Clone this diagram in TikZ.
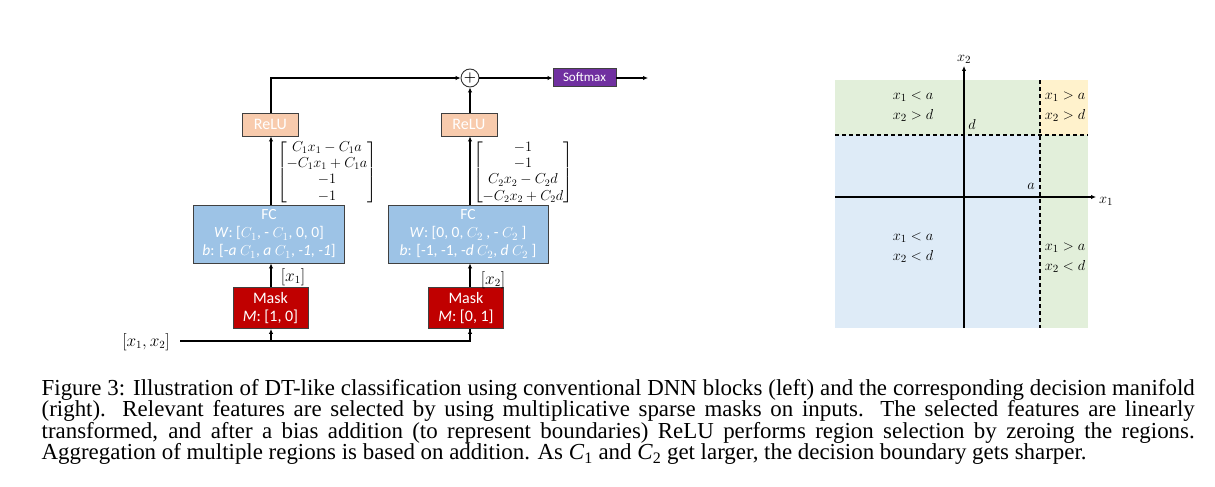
\documentclass[tikz,border=0pt]{standalone}
\usepackage{amsmath}
\usepackage{fontspec}
\newfontfamily\boxfont{Carlito}
\newfontfamily\capfont{Liberation Serif}
\usetikzlibrary{arrows.meta}
\definecolor{relufill}{HTML}{F8CBAD}
\definecolor{fcfill}{HTML}{9DC3E6}
\definecolor{maskfill}{HTML}{C00000}
\definecolor{softfill}{HTML}{7030A0}
\definecolor{rgreen}{HTML}{E2EFDA}
\definecolor{rblue}{HTML}{DEEBF7}
\definecolor{ryellow}{HTML}{FFF2CC}
\newlength\capw
\tikzset{
  blk/.style={draw=black!75, line width=0.9pt, text=white, align=center, inner sep=0pt,
    font=\boxfont\fontsize{16}{18.5}\selectfont},
  arr/.style={-{Latex[length=5pt,width=4.5pt]}, line width=1.3pt},
  ln/.style={line width=1.3pt},
  mtx/.style={font=\fontsize{14.5}{16.2}\selectfont, inner sep=0pt},
  lbl/.style={font=\fontsize{15.5}{20}\selectfont, align=center, inner sep=0pt},
  bnd/.style={line width=1.1pt, dash pattern=on 4pt off 3pt}
}
\begin{document}
\settowidth\capw{\capfont\fontsize{10}{12}\selectfont Figure 3: Illustration of DT-like classification using conventional DNN blocks (left) and the corresponding decision manifold}
\pgfmathsetmacro\capsize{10*1150/\capw}
\begin{tikzpicture}[x=1pt,y=-1pt]
\useasboundingbox (0,0) rectangle (1215,487);
% ---- network ----
\coordinate (c1) at (271,0);
\coordinate (c2) at (470,0);
\node[blk, fill=maskfill, minimum width=75, minimum height=41] (mask1) at (270.5,308) {Mask\\\textit{M}: [1, 0]};
\node[blk, fill=maskfill, minimum width=75, minimum height=41] (mask2) at (466,308) {Mask\\\textit{M}: [0, 1]};
\node[blk, fill=fcfill, minimum width=151, minimum height=58, font=\boxfont\fontsize{15.5}{18}\selectfont] (fc1) at (269,234)
  {FC\\\textit{W}: [$C_1$, - $C_1$, 0, 0]\\\textit{b}: [-\textit{a} $C_1$, \textit{a} $C_1$, \textit{-1}, \textit{-1}]};
\node[blk, fill=fcfill, minimum width=160, minimum height=58, font=\boxfont\fontsize{15.5}{18}\selectfont] (fc2) at (468,234)
  {FC\\\textit{W}: [0, 0, $C_2$ , - $C_2$ ]\\\textit{b}: [-1, -1, -\textit{d} $C_2$, \textit{d} $C_2$ ]};
\node[blk, fill=relufill, minimum width=56, minimum height=23] (relu1) at (270.5,124.5) {ReLU};
\node[blk, fill=relufill, minimum width=56, minimum height=23] (relu2) at (469,124.5) {ReLU};
\node[draw=black!80, line width=0.9pt, circle, fill=white, minimum size=18, inner sep=0pt,
  font=\fontsize{14}{14}\selectfont] (plus) at (470,78) {\textbf{+}};
\node[blk, fill=softfill, minimum width=63, minimum height=18.5,
  font=\boxfont\fontsize{13}{13}\selectfont] (soft) at (584.5,77.5) {Softmax};
\coordinate (out) at (648,78);
\coordinate (in) at (180,341);
\node[font=\fontsize{16}{16}\selectfont, inner sep=0pt] (inlbl) at (146,342) {$[x_1,x_2]$};
\node[mtx] (m1) at (327,172.5) {$\begin{bmatrix} C_1x_1-C_1a\\ -C_1x_1+C_1a\\ -1\\ -1\end{bmatrix}$};
\node[mtx] (m2) at (523,172.5) {$\begin{bmatrix} -1\\ -1\\ C_2x_2-C_2d\\ -C_2x_2+C_2d\end{bmatrix}$};
\node[font=\fontsize{16}{16}\selectfont, inner sep=0pt] (x1l) at (293,277) {$[x_1]$};
\node[font=\fontsize{16}{16}\selectfont, inner sep=0pt] (x2l) at (493,280) {$[x_2]$};
% connectors
\draw[ln] (in) -| (c2 |- mask2.south);
\draw[arr] (in -| c2) -- (c2 |- mask2.south);
\draw[arr] (in -| c1) -- (c1 |- mask1.south);
\draw[arr] (c1 |- mask1.north) -- (c1 |- fc1.south);
\draw[arr] (c2 |- mask2.north) -- (c2 |- fc2.south);
\draw[arr] (c1 |- fc1.north) -- (c1 |- relu1.south);
\draw[arr] (c2 |- fc2.north) -- (c2 |- relu2.south);
\draw[arr] (c1 |- relu1.north) |- (plus.west);
\draw[arr] (c2 |- relu2.north) -- (plus.south);
\draw[arr] (plus.east) -- (soft.west |- plus.east);
\draw[arr] (soft.east |- out) -- (out);
% ---- decision manifold ----
\fill[rblue] (835,135) rectangle (1040,328);
\fill[rgreen] (835,80) rectangle (1040,135);
\fill[rgreen] (1040,135) rectangle (1088,328);
\fill[ryellow] (1040,80) rectangle (1088,135);
\draw[bnd] (835,135) -- (1088,135);
\draw[bnd] (1040,80) -- (1040,328);
\coordinate (yb) at (964,328);
\coordinate (yt) at (964,66);
\coordinate (xl) at (835,197);
\coordinate (xr) at (1096,197);
\draw[arr, line width=1.5pt] (yb) -- (yt);
\draw[arr, line width=1.5pt] (xl) -- (xr);
\node[lbl] (x2ax) at (964,59) {$x_2$};
\node[lbl] (x1ax) at (1106,201) {$x_1$};
\node[lbl] (dl) at (972,124) {$d$};
\node[lbl] (al) at (1031,186) {$a$};
\node[lbl] (r1) at (913,107) {$x_1<a$\\$x_2>d$};
\node[lbl] (r2) at (1065,107) {$x_1>a$\\$x_2>d$};
\node[lbl] (r3) at (913,248) {$x_1<a$\\$x_2<d$};
\node[lbl] (r4) at (1065,258) {$x_1>a$\\$x_2<d$};
% ---- caption ----
\node[anchor=north west, inner sep=0pt, text width=1153, align=justify,
  font=\capfont\fontsize{\capsize}{21.4}\selectfont] (cap) at (41.5,379)
{Figure 3: Illustration of DT-like classification using conventional DNN blocks (left) and the corresponding decision manifold\linebreak
(right). Relevant features are selected by using multiplicative sparse masks on inputs. The selected features are linearly\linebreak
transformed, and after a bias addition (to represent boundaries) ReLU performs region selection by zeroing the regions.\linebreak
Aggregation of multiple regions is based on addition. As \textit{C}\textsubscript{1} and \textit{C}\textsubscript{2} get larger, the decision boundary gets sharper.};
\end{tikzpicture}
\end{document}
